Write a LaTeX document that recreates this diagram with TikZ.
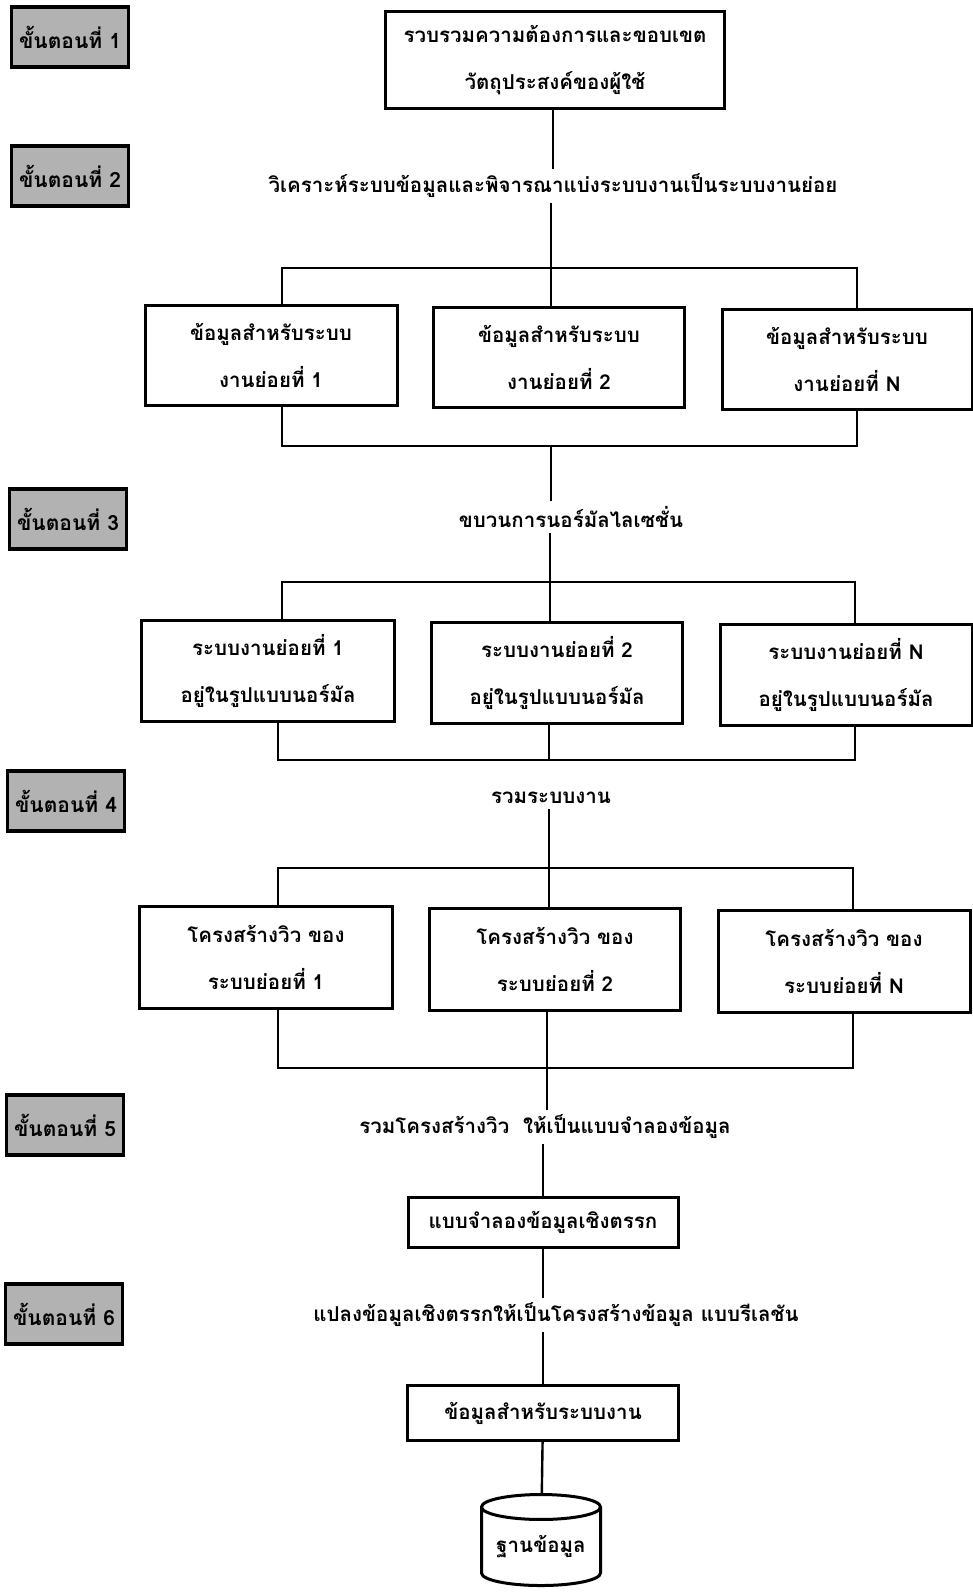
\documentclass[tikz,border=0pt]{standalone}
\usepackage{fontspec}
\newfontfamily\thaifont[Script=Thai]{Loma}
\usetikzlibrary{positioning}
\usetikzlibrary{shapes.geometric}

\begin{document}
\begin{tikzpicture}[x=1pt,y=-1pt,
  font=\thaifont\bfseries\fontsize{20.5}{47}\selectfont,
  caixa/.style={draw,line width=3pt,align=center,inner sep=0pt},
  etapa/.style={draw,line width=3.5pt,fill=black!30,minimum width=117pt,
    minimum height=60pt,inner sep=0pt,font=\thaifont\bfseries\fontsize{21}{25}\selectfont},
  liga/.style={line width=2.4pt},
  texto/.style={inner sep=5pt}]

\useasboundingbox (0,0) rectangle (973,1596);

% etapas
\node[etapa] (p1) at (70,37) {ขั้นตอนที่ 1};
\node[etapa] (p2) at (70,176) {ขั้นตอนที่ 2};
\node[etapa] (p3) at (68,519) {ขั้นตอนที่ 3};
\node[etapa] (p4) at (66,801) {ขั้นตอนที่ 4};
\node[etapa] (p5) at (65,1125) {ขั้นตอนที่ 5};
\node[etapa] (p6) at (64,1314) {ขั้นตอนที่ 6};

% requisitos e analise
\node[caixa,minimum width=339pt,minimum height=97pt] (req) at (555,60)
  {รวบรวมความต้องการและขอบเขต\\วัตถุประสงค์ของผู้ใช้};
\node[texto] (analise) at (553,186)
  {วิเคราะห์ระบบข้อมูลและพิจารณาแบ่งระบบงานเป็นระบบงานย่อย};
\draw[liga] (req.south -| analise) -- (analise);

% dados dos subsistemas
\node[caixa,minimum width=252pt,minimum height=100pt] (dA1) at (271,355)
  {ข้อมูลสำหรับระบบ\\งานย่อยที่ 1};
\node[caixa,minimum width=251pt,minimum height=100pt] (dA2) at (559,357)
  {ข้อมูลสำหรับระบบ\\งานย่อยที่ 2};
\node[caixa,minimum width=250pt,minimum height=100pt] (dA3) at (847,359)
  {ข้อมูลสำหรับระบบ\\งานย่อยที่ N};

\coordinate (b1l) at (282,268);
\coordinate (b1m) at (551,268);
\coordinate (b1r) at (857,268);
\draw[liga] (analise.south -| b1m) -- (b1m);
\draw[liga] (b1l |- dA1.north) -- (b1l) -- (b1r) -- (b1r |- dA3.north);
\draw[liga] (b1m) -- (b1m |- dA2.north);

\coordinate (b2l) at (282,446);
\coordinate (b2m) at (551,446);
\coordinate (b2r) at (857,446);
\draw[liga] (b2l |- dA1.south) -- (b2l) -- (b2r) -- (b2r |- dA3.south);

% normalizacao
\node[texto] (norm) at (571,517) {ขบวนการนอร์มัลไลเซชั่น};
\draw[liga] (b2m) -- (b2m |- norm.north);

\node[caixa,minimum width=253pt,minimum height=101pt] (sB1) at (268,671)
  {ระบบงานย่อยที่ 1\\อยู่ในรูปแบบนอร์มัล};
\node[caixa,minimum width=251pt,minimum height=101pt] (sB2) at (557,673)
  {ระบบงานย่อยที่ 2\\อยู่ในรูปแบบนอร์มัล};
\node[caixa,minimum width=252pt,minimum height=101pt] (sB3) at (846,675)
  {ระบบงานย่อยที่ N\\อยู่ในรูปแบบนอร์มัล};

\coordinate (b3l) at (282,582);
\coordinate (b3m) at (550,582);
\coordinate (b3r) at (855,582);
\draw[liga] (norm.south -| b3m) -- (b3m);
\draw[liga] (b3l |- sB1.north) -- (b3l) -- (b3r) -- (b3r |- sB3.north);
\draw[liga] (b3m) -- (b3m |- sB2.north);

\coordinate (b4l) at (278,760);
\coordinate (b4m) at (549,760);
\coordinate (b4r) at (855,760);
\draw[liga] (b4l |- sB1.south) -- (b4l) -- (b4r) -- (b4r |- sB3.south);
\draw[liga] (b4m |- sB2.south) -- (b4m);

% juntar
\node[texto] (junta) at (551,798) {รวมระบบงาน};

\node[caixa,minimum width=253pt,minimum height=102pt] (vC1) at (266,957)
  {โครงสร้างวิว ของ\\ระบบย่อยที่ 1};
\node[caixa,minimum width=251pt,minimum height=102pt] (vC2) at (555,959)
  {โครงสร้างวิว ของ\\ระบบย่อยที่ 2};
\node[caixa,minimum width=252pt,minimum height=102pt] (vC3) at (844,961)
  {โครงสร้างวิว ของ\\ระบบย่อยที่ N};

\coordinate (b5l) at (278,868);
\coordinate (b5m) at (549,868);
\coordinate (b5r) at (853,868);
\draw[liga] (junta.south -| b5m) -- (b5m);
\draw[liga] (b5l |- vC1.north) -- (b5l) -- (b5r) -- (b5r |- vC3.north);
\draw[liga] (b5m) -- (b5m |- vC2.north);

\coordinate (b6l) at (278,1068);
\coordinate (b6m) at (547,1068);
\coordinate (b6r) at (853,1068);
\draw[liga] (b6l |- vC1.south) -- (b6l) -- (b6r) -- (b6r |- vC3.south);
\draw[liga] (b6m |- vC2.south) -- (b6m);

% modelo logico
\node[texto] (visoes) at (545,1127) {รวมโครงสร้างวิว~~ให้เป็นแบบจำลองข้อมูล};
\draw[liga] (b6m) -- (b6m |- visoes.north);

\node[caixa,minimum width=270pt,minimum height=50pt] (logico) at (543,1222)
  {แบบจำลองข้อมูลเชิงตรรก};
\draw[liga] (visoes.south -| logico) -- (logico);

\node[texto] (rel) at (556,1315)
  {แปลงข้อมูลเชิงตรรกให้เป็นโครงสร้างข้อมูล แบบรีเลชัน};
\draw[liga] (logico) -- (logico |- rel.north);

\node[caixa,minimum width=271pt,minimum height=55pt] (dados) at (543,1413)
  {ข้อมูลสำหรับระบบงาน};
\draw[liga] (rel.south -| dados) -- (dados);

% banco de dados
\node[cylinder,shape border rotate=90,draw,line width=3pt,aspect=0.28,
  minimum width=119pt,minimum height=91pt,inner sep=0pt] (bd) at (541,1547) {ฐานข้อมูล};
\draw[liga] (dados) -- (bd);

\end{tikzpicture}
\end{document}
